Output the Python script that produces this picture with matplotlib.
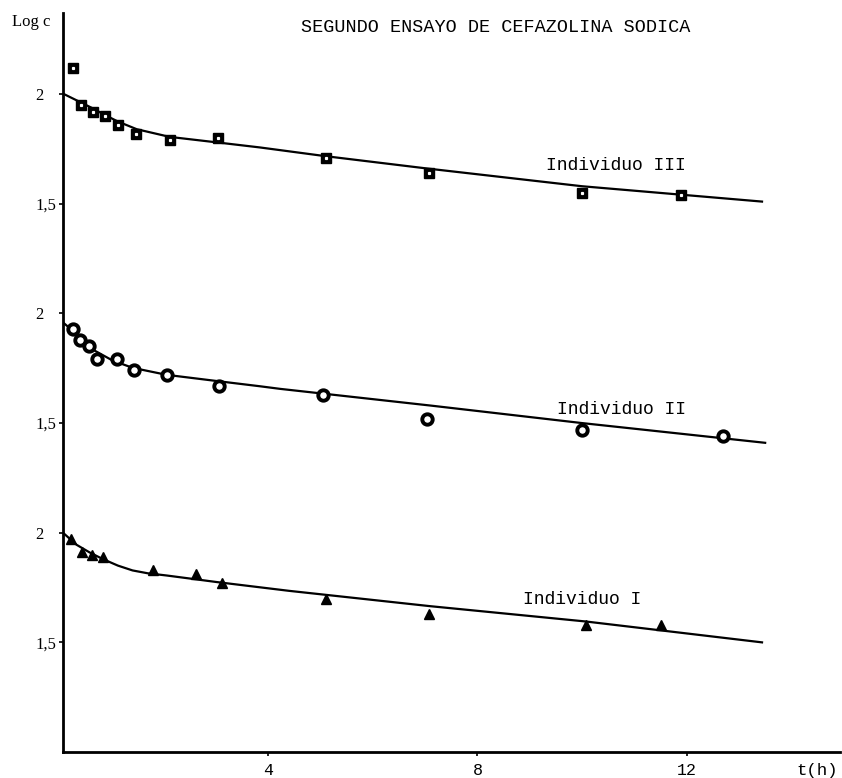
import matplotlib
matplotlib.use('Agg')
import matplotlib.pyplot as plt

# Individuo III (squares), log c against t(h)
t3 = [0.27, 0.42, 0.65, 0.88, 1.13, 1.47, 2.12, 3.04, 5.1, 7.07, 10.0, 11.9]
c3 = [2.12, 1.95, 1.92, 1.90, 1.86, 1.82, 1.79, 1.80, 1.71, 1.64, 1.55, 1.54]
# fitted curve
fit_t3 = [0.1, 0.44, 0.65, 0.88, 1.13, 1.49, 2.12, 3.02, 3.84, 5.1, 7.07, 10.0, 13.44]
fit_c3 = [2.0, 1.96, 1.935, 1.905, 1.875, 1.84, 1.805, 1.78, 1.757, 1.717, 1.66, 1.58, 1.51]

# Individuo II (circles)
t2 = [0.27, 0.40, 0.57, 0.73, 1.11, 1.43, 2.06, 3.06, 5.05, 7.04, 10.0, 12.7]
c2 = [1.93, 1.88, 1.85, 1.79, 1.79, 1.74, 1.72, 1.67, 1.63, 1.52, 1.47, 1.44]
fit_t2 = [0.1, 0.27, 0.45, 0.65, 1.03, 1.41, 2.06, 3.08, 3.84, 4.23, 7.1, 10.0, 13.5]
fit_c2 = [1.955, 1.92, 1.875, 1.835, 1.785, 1.752, 1.72, 1.69, 1.668, 1.656, 1.58, 1.50, 1.41]

# Individuo I (triangles)
t1 = [0.23, 0.44, 0.63, 0.84, 1.8, 2.62, 3.12, 5.1, 7.07, 10.08, 11.5]
c1 = [1.97, 1.91, 1.90, 1.89, 1.83, 1.81, 1.77, 1.70, 1.63, 1.58, 1.58]
fit_t1 = [0.08, 0.34, 0.59, 0.84, 1.13, 1.41, 1.7, 2.06, 3.02, 4.4, 7.1, 10.08, 13.44]
fit_c1 = [2.0, 1.945, 1.91, 1.88, 1.85, 1.828, 1.815, 1.805, 1.775, 1.735, 1.665, 1.595, 1.50]

xticks = [4, 8, 12]
yticks = [1.5, 2, 2.5, 3, 3.5, 4]
ylabels = ['1,5', '2', '1,5', '2', '1,5', '2']

# the three panels share one axis, shifted by one log unit each
off3 = 2.0
off2 = 1.0
off1 = 0.0

mono = 'Liberation Mono'
serif = 'Liberation Serif'

fig = plt.figure(figsize=(8.42, 7.78), dpi=100)
ax = fig.add_axes([0.0748, 0.0334, 0.9228, 0.9499])

ax.plot(fit_t3, [v + off3 for v in fit_c3], color='black', linewidth=1.6)
ax.plot(fit_t2, [v + off2 for v in fit_c2], color='black', linewidth=1.6)
ax.plot(fit_t1, [v + off1 for v in fit_c1], color='black', linewidth=1.6)

ax.plot(t3, [v + off3 for v in c3], 's', color='black', markersize=6.8)
ax.plot(t3, [v + off3 for v in c3], 's', color='white', markersize=1.3)
ax.plot(t2, [v + off2 for v in c2], 'o', markerfacecolor='white',
        markeredgecolor='black', markeredgewidth=2.8, markersize=7.5)
ax.plot(t1, [v + off1 for v in c1], '^', color='black', markersize=6.5)

ax.set_xlim(0.08, 14.93)
ax.set_ylim(1.0, 4.37)

for side in ['top', 'right']:
    ax.spines[side].set_visible(False)
for side in ['left', 'bottom']:
    ax.spines[side].set_linewidth(2)

ax.set_xticks(xticks)
ax.set_xticklabels([str(x) for x in xticks], fontfamily=mono, fontsize=12)
ax.set_yticks(yticks)
ax.set_yticklabels(ylabels, fontfamily=serif, fontsize=12)
ax.tick_params(axis='x', direction='out', length=3, width=1.2, pad=5)
ax.tick_params(axis='y', direction='out', length=3, width=1.2, pad=17)
for lab in ax.get_yticklabels():
    lab.set_horizontalalignment('left')

# texts
fig.text(301 / 842, 1 - 27 / 778, 'SEGUNDO ENSAYO DE CEFAZOLINA SODICA',
         fontfamily=mono, fontsize=13.3, va='center', ha='left')
fig.text(12 / 842, 1 - 22 / 778, 'Log c', fontfamily=serif, fontsize=12,
         va='center', ha='left')
fig.text(838 / 842, 1 - 770 / 778, 't(h)', fontfamily=mono, fontsize=12.5,
         va='center', ha='right')

ax.text(9.31, 1.674 + off3, 'Individuo III', fontfamily=mono, fontsize=13,
        va='center', ha='left')
ax.text(9.52, 1.56 + off2, 'Individuo II', fontfamily=mono, fontsize=13,
        va='center', ha='left')
ax.text(8.87, 1.695 + off1, 'Individuo I', fontfamily=mono, fontsize=13,
        va='center', ha='left')

plt.savefig('out.png', dpi=100)
